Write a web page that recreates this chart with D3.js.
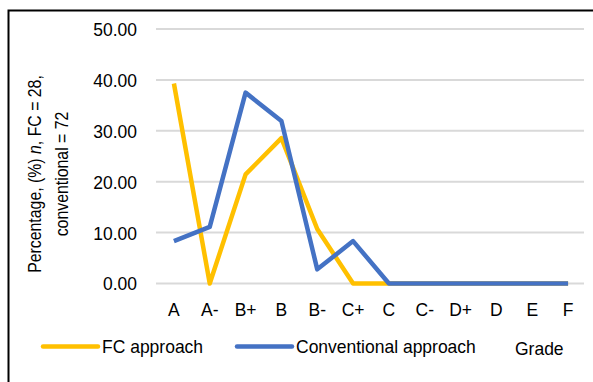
<!DOCTYPE html>
<html lang="en">
<head>
    <meta charset="UTF-8">
    <title>Grade distribution</title>
    <script src="https://d3js.org/d3.v7.min.js"></script>
    <style>
        body { margin: 0; background: #fff; }
        text { font-family: "Liberation Sans Narrow", "Arial Narrow", "Liberation Sans", Arial, sans-serif; fill: #000; }
    </style>
</head>
<body>
    <svg width="593" height="382"></svg>
    <script>
        const width = 593, height = 382;

        // Data
        const grades = ["A", "A-", "B+", "B", "B-", "C+", "C", "C-", "D+", "D", "E", "F"];
        const fcValues = [39.29, 0, 21.43, 28.57, 10.71, 0, 0, 0, 0, 0, 0, 0];
        const convValues = [8.33, 11.11, 37.5, 31.94, 2.78, 8.33, 0, 0, 0, 0, 0, 0];
        const yTicks = [0, 10, 20, 30, 40, 50];
        const seriesNames = ["FC approach", "Conventional approach"];
        const colors = ["#FFC000", "#4472C4"];

        const fontSize = 18.5;
        const squeeze = 0.945;   // the original font is a bit narrower than Liberation Sans

        const svg = d3.select("svg");

        // squeeze a text horizontally to mimic the condensed face
        function narrow(sel, k) {
            sel.each(function () {
                const len = this.getComputedTextLength();
                d3.select(this).attr("textLength", len * k).attr("lengthAdjust", "spacingAndGlyphs");
            });
        }

        // outer frame (right/bottom edges fall outside the picture)
        svg.append("rect")
            .attr("x", 8.5).attr("y", 10.5)
            .attr("width", 600).attr("height", 400)
            .attr("fill", "none").attr("stroke", "#000").attr("stroke-width", 2);

        const x = d3.scaleBand().domain(grades).range([156, 586]);
        const y = d3.scaleLinear().domain([0, 50]).range([283.5, 29]);

        // gridlines
        svg.append("g")
            .selectAll("line")
            .data(yTicks)
            .enter().append("line")
            .attr("x1", 156).attr("x2", 584)
            .attr("y1", d => y(d)).attr("y2", d => y(d))
            .attr("stroke", "#d9d9d9").attr("stroke-width", 2);

        // y axis labels
        const yAxis = d3.axisLeft(y).tickValues(yTicks).tickFormat(d3.format(".2f")).tickSize(0).tickPadding(0);
        svg.append("g").attr("transform", "translate(137,0)").call(yAxis)
            .call(g => g.select(".domain").remove())
            .selectAll("text").attr("font-size", fontSize).attr("dy", "0.35em")
            .style("font-family", "'Liberation Sans', Arial, sans-serif")
            .call(narrow, squeeze);

        // x axis labels
        const xAxis = d3.axisBottom(x).tickSize(0).tickPadding(0);
        svg.append("g").attr("transform", "translate(0,310)").call(xAxis)
            .call(g => g.select(".domain").remove())
            .selectAll("text").attr("font-size", fontSize).attr("dy", "0.35em")
            .style("font-family", "'Liberation Sans', Arial, sans-serif")
            .call(narrow, squeeze);

        // lines: FC first, conventional drawn on top
        const line = d3.line()
            .x((d, i) => x(grades[i]) + x.bandwidth() / 2)
            .y(d => y(d));

        [fcValues, convValues].forEach((vals, k) => {
            svg.append("path")
                .datum(vals)
                .attr("d", line)
                .attr("fill", "none")
                .attr("stroke", colors[k])
                .attr("stroke-width", 4.5)
                .attr("stroke-linejoin", "round");
        });

        // y axis title (two lines)
        const t1 = svg.append("text")
            .attr("transform", "translate(41,174) rotate(-90)")
            .attr("text-anchor", "middle")
            .attr("font-size", 18);
        t1.append("tspan").text("Percentage, (%) ");
        t1.append("tspan").attr("font-style", "italic").text("n");
        t1.append("tspan").text(", FC = 28,");
        t1.call(narrow, 0.88);

        svg.append("text")
            .attr("transform", "translate(68,174) rotate(-90)")
            .attr("text-anchor", "middle")
            .attr("font-size", 18)
            .text("conventional = 72")
            .call(narrow, 0.88);

        // legend
        const legendX = [43, 237];
        seriesNames.forEach((name, i) => {
            svg.append("line")
                .attr("x1", legendX[i]).attr("x2", legendX[i] + 55)
                .attr("y1", 346.5).attr("y2", 346.5)
                .attr("stroke", colors[i]).attr("stroke-width", 4.5)
                .attr("stroke-linecap", "round");
            svg.append("text")
                .attr("x", legendX[i] + 59).attr("y", 346.5).attr("dy", "0.35em")
                .attr("font-size", fontSize)
                .text(name)
                .call(narrow, squeeze);
        });

        svg.append("text")
            .attr("x", 515).attr("y", 348.5).attr("dy", "0.35em")
            .attr("font-size", fontSize)
            .text("Grade")
            .call(narrow, squeeze);
    </script>
</body>
</html>
